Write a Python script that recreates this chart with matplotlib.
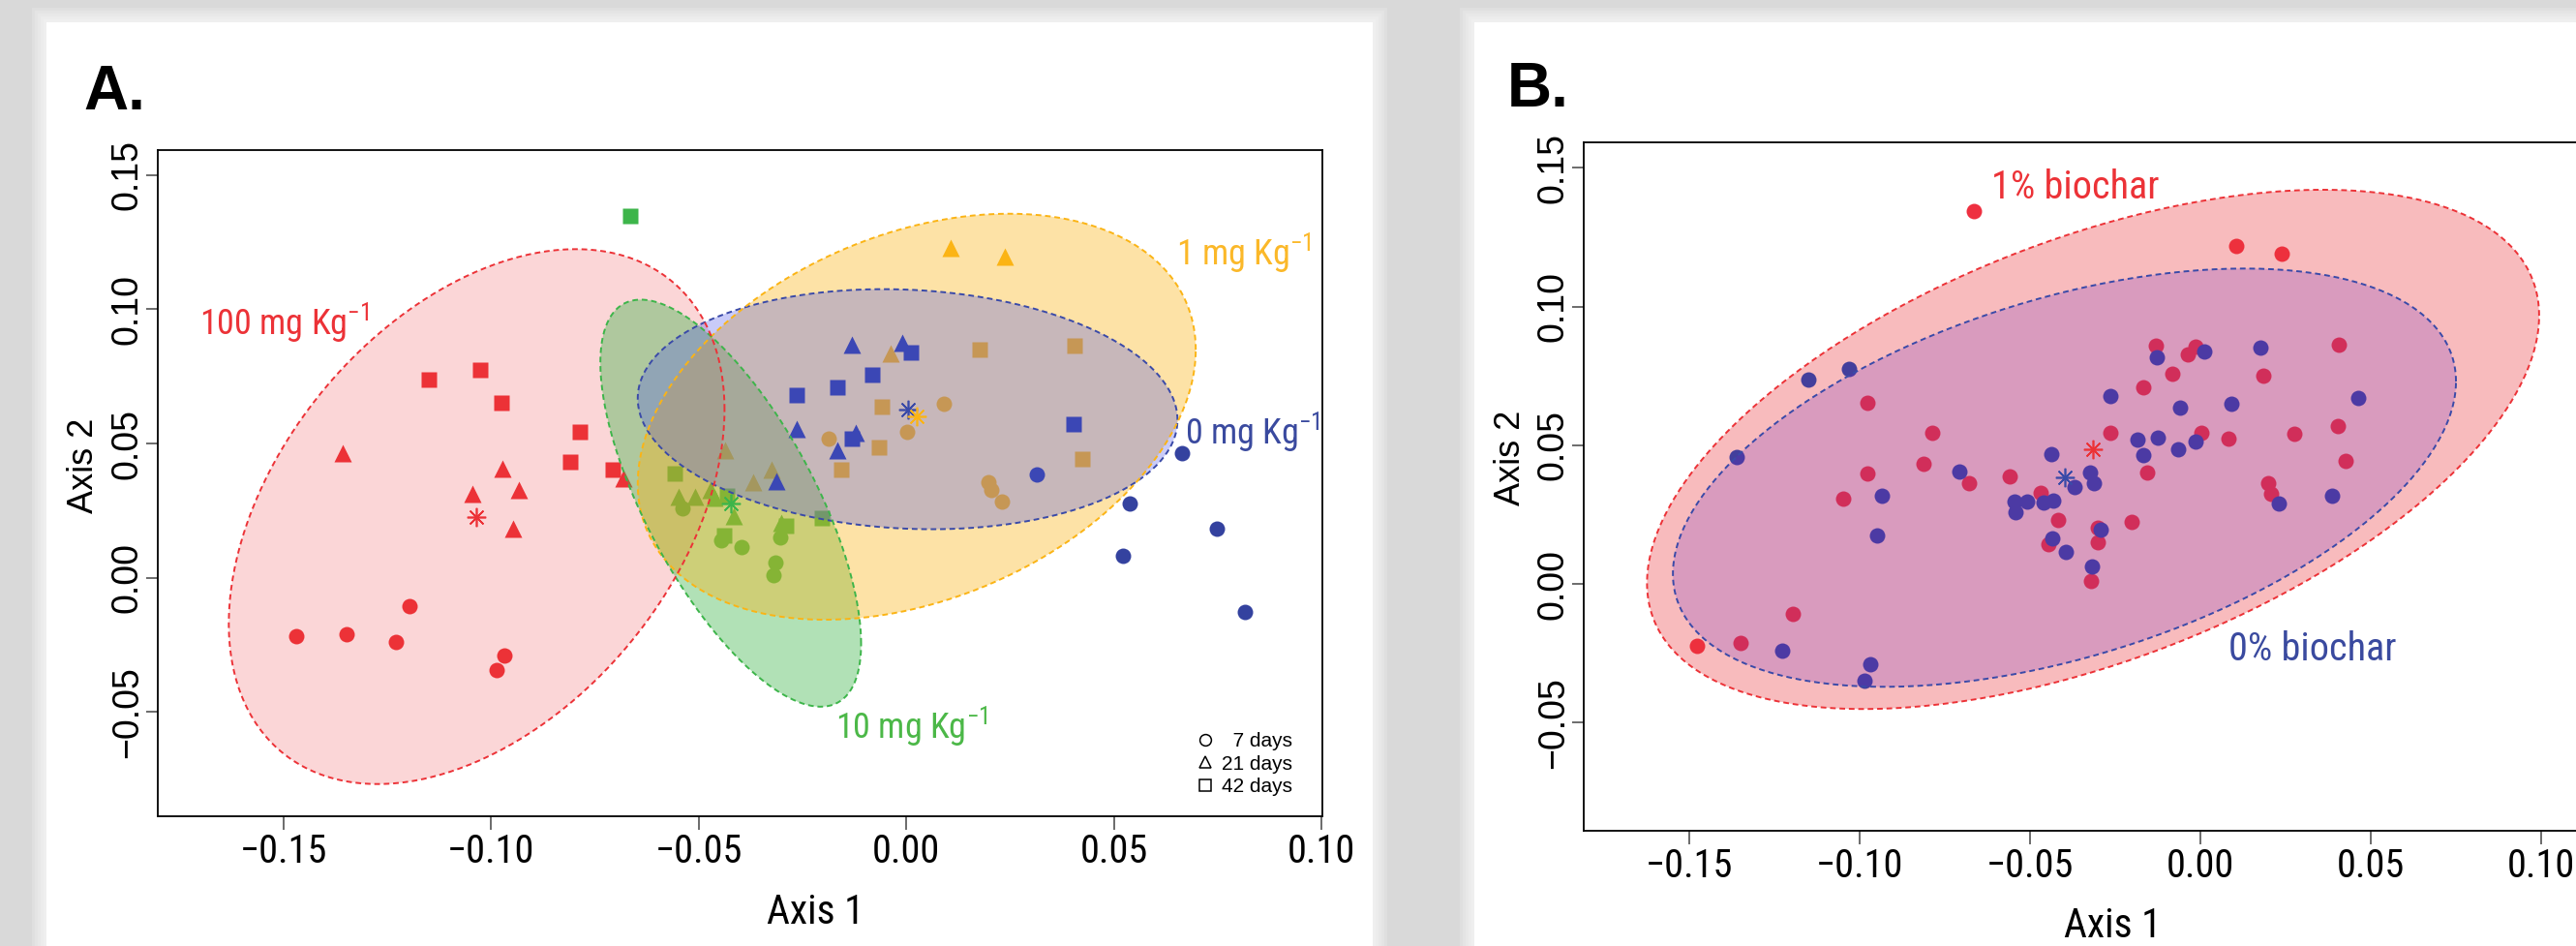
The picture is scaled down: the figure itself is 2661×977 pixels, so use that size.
import numpy as np
import matplotlib
matplotlib.use('Agg')
import matplotlib.pyplot as plt
from matplotlib import font_manager as fm
from matplotlib.lines import Line2D
from matplotlib.patches import Rectangle
from matplotlib.ticker import FixedLocator, FuncFormatter

W, H = 2661, 977

names = {f.name for f in fm.fontManager.ttflist}
NARROW = next((n for n in ['Liberation Sans Narrow', 'Roboto Condensed', 'Open Sans Condensed']
               if n in names), 'DejaVu Sans')
HELV = 'Liberation Sans' if 'Liberation Sans' in names else 'DejaVu Sans'

# ---------------- panel A data (Axis 1 / Axis 2), 6 x 7 d, 6 x 21 d, 6 x 42 d per dose
sample_day = [7] * 6 + [21] * 6 + [42] * 6
doses = ['0 mg', '1 mg', '10 mg', '100 mg']

a1_0mg = [0.0315, 0.0665, 0.0539, 0.0748, 0.0522, 0.0816,
          -0.0132, -0.0011, -0.0264, -0.0121, -0.0167, -0.0312,
          0.0010, -0.0082, -0.0167, -0.0263, -0.0132, 0.0402]
a2_0mg = [0.0385, 0.0463, 0.0277, 0.0183, 0.0082, -0.0126,
          0.0868, 0.0874, 0.0553, 0.0541, 0.0475, 0.0361,
          0.0838, 0.0755, 0.0709, 0.0679, 0.0517, 0.0571]

a1_1mg = [0.0091, 0.0002, -0.0188, 0.0198, 0.0205, 0.0230,
          0.0106, 0.0237, -0.0037, -0.0436, -0.0324, -0.0369,
          0.0176, 0.0405, -0.0059, -0.0067, -0.0157, 0.0424]
a2_1mg = [0.0649, 0.0544, 0.0520, 0.0357, 0.0327, 0.0285,
          0.1229, 0.1196, 0.0836, 0.0475, 0.0403, 0.0357,
          0.0850, 0.0863, 0.0637, 0.0485, 0.0403, 0.0442]

a1_10mg = [-0.0540, -0.0445, -0.0396, -0.0303, -0.0315, -0.0321,
           -0.0548, -0.0508, -0.0472, -0.0463, -0.0415, -0.0302,
           -0.0665, -0.0558, -0.0433, -0.0439, -0.0290, -0.0203]
a2_10mg = [0.0259, 0.0139, 0.0114, 0.0151, 0.0057, 0.0010,
           0.0301, 0.0301, 0.0327, 0.0299, 0.0231, 0.0205,
           0.1346, 0.0388, 0.0307, 0.0157, 0.0195, 0.0223]

a1_100mg = [-0.1470, -0.1348, -0.1230, -0.1197, -0.0987, -0.0968,
            -0.1358, -0.1045, -0.0973, -0.0934, -0.0947, -0.0681,
            -0.1150, -0.1027, -0.0976, -0.0786, -0.0810, -0.0707]
a2_100mg = [-0.0216, -0.0210, -0.0240, -0.0106, -0.0345, -0.0290,
            0.0463, 0.0313, 0.0406, 0.0327, 0.0183, 0.0369,
            0.0737, 0.0773, 0.0651, 0.0543, 0.0431, 0.0402]

# ellipses (centre = group centroid), half extents along each axis and correlation
ellA_cx = [0.0003, 0.0025, -0.0423, -0.1035]
ellA_cy = [0.0628, 0.0600, 0.0278, 0.0228]
ellA_hx = [0.0650, 0.0672, 0.0314, 0.0597]
ellA_hy = [0.0447, 0.0756, 0.0758, 0.0996]
ellA_rho = [-0.09, 0.33, -0.69, 0.40]

# ---------------- panel B data
b1_0pct = [-0.1030, -0.1151, -0.1360, -0.0934, -0.0949, -0.1228, -0.0968, -0.0985,
           -0.0263, -0.0128, 0.0010, 0.0177, 0.0464, -0.0059, 0.0091, -0.0186,
           -0.0124, -0.0167, -0.0065, -0.0438, -0.0707, -0.0324, -0.0313, -0.0368,
           -0.0545, -0.0509, -0.0543, -0.0461, -0.0432, -0.0294, -0.0436, -0.0395,
           -0.0317, 0.0387, 0.0231, -0.0015]
b2_0pct = [0.0775, 0.0738, 0.0456, 0.0319, 0.0176, -0.0242, -0.0288, -0.0349,
           0.0679, 0.0818, 0.0838, 0.0851, 0.0669, 0.0636, 0.0651, 0.0520,
           0.0529, 0.0466, 0.0486, 0.0468, 0.0404, 0.0400, 0.0362, 0.0350,
           0.0297, 0.0297, 0.0259, 0.0293, 0.0299, 0.0197, 0.0163, 0.0115,
           0.0062, 0.0319, 0.0289, 0.0515]

b1_1pct = [-0.0664, 0.0106, 0.0239, -0.0130, -0.0013, -0.0036, 0.0406, -0.0082,
           0.0184, -0.0167, -0.0978, -0.0788, -0.0265, 0.0002, 0.0083, 0.0276,
           0.0404, 0.0425, -0.0812, -0.0976, -0.0561, -0.0680, -0.0157, -0.0470,
           0.0198, 0.0206, -0.1047, -0.0417, -0.0203, -0.0301, -0.0301, -0.0445,
           -0.0320, -0.1197, -0.1349, -0.1476]
b2_1pct = [0.1345, 0.1220, 0.1189, 0.0860, 0.0856, 0.0826, 0.0863, 0.0756,
           0.0751, 0.0709, 0.0653, 0.0545, 0.0545, 0.0545, 0.0525, 0.0541,
           0.0570, 0.0442, 0.0433, 0.0397, 0.0389, 0.0363, 0.0402, 0.0329,
           0.0362, 0.0326, 0.0306, 0.0229, 0.0223, 0.0202, 0.0151, 0.0142,
           0.0012, -0.0107, -0.0212, -0.0222]

ellB_cx = [-0.0399, -0.0315]
ellB_cy = [0.0383, 0.0485]
ellB_hx = [0.1149, 0.1309]
ellB_hy = [0.0754, 0.0936]
ellB_rho = [0.46, 0.515]

ticks_x = [-0.15, -0.10, -0.05, 0.00, 0.05, 0.10]
ticks_y = [-0.05, 0.00, 0.05, 0.10, 0.15]

# colours: point colour, fill colour, fill alpha, outline colour
pt_A = ['#34429f', '#fbb415', '#3db54a', '#ec3237']
fill_A = ['#4c54eb', '#fbb415', '#3db54a', '#ec3237']
alpha_A = [0.30, 0.38, 0.40, 0.20]
line_A = ['#3a4aa8', '#fbb415', '#3db54a', '#ec3237']
# layering: red/green/orange points under every fill, blue points above the orange fill
pt_z_A = [5, 1, 1, 1]
fill_z_A = [6, 4, 3, 2]
day_marker = {7: 'o', 21: '^', 42: 's'}
day_ms = {7: 11.5, 21: 13.5, 42: 11.5}


def ellipse_xy(cx, cy, hx, hy, rho, n=300):
    t = np.linspace(0, 2 * np.pi, n)
    return cx + hx * np.cos(t), cy + hy * (rho * np.cos(t) + np.sqrt(1 - rho ** 2) * np.sin(t))


def fmt(v, pos):
    return f'{v:.2f}'.replace('-', '\u2212')


def style_axes(ax, xlim, ylim):
    ax.set_xlim(*xlim)
    ax.set_ylim(*ylim)
    ax.xaxis.set_major_locator(FixedLocator(ticks_x))
    ax.yaxis.set_major_locator(FixedLocator(ticks_y))
    ax.xaxis.set_major_formatter(FuncFormatter(fmt))
    ax.yaxis.set_major_formatter(FuncFormatter(fmt))
    for s in ax.spines.values():
        s.set_linewidth(1.3)
        s.set_zorder(10)
    ax.tick_params(axis='x', length=10, width=1.1, color='#444444', pad=2)
    ax.tick_params(axis='y', length=8.6, width=1.1, color='#444444', pad=1)
    for lab in ax.get_xticklabels():
        lab.set_fontfamily(NARROW)
        lab.set_fontsize(29)
    for lab in ax.get_yticklabels():
        lab.set_fontfamily(HELV)
        lab.set_fontsize(27)
        lab.set_rotation(90)
        lab.set_va('center')


fig = plt.figure(figsize=(W / 100, H / 100), dpi=100)
fig.patch.set_facecolor('#d9d9d9')
# white panels with a soft edge
for x0, x1 in [(48, 1418), (1523, 2720)]:
    for k in range(5, 0, -1):
        fig.add_artist(Rectangle(((x0 - 3 * k) / W, 0), (x1 - x0 + 6 * k) / W, (H - 23 + 3 * k) / H,
                                 transform=fig.transFigure, facecolor='white', edgecolor='none',
                                 alpha=0.18, zorder=0))
    fig.add_artist(Rectangle((x0 / W, 0), (x1 - x0) / W, (H - 23) / H, transform=fig.transFigure,
                             facecolor='white', edgecolor='none', zorder=0))

# ================= panel A
axA = fig.add_axes([163 / W, 134 / H, 1203 / W, 688 / H])
style_axes(axA, (-0.1803, 0.1002), (-0.0888, 0.1593))

groupsA = [(a1_0mg, a2_0mg), (a1_1mg, a2_1mg), (a1_10mg, a2_10mg), (a1_100mg, a2_100mg)]
dd = np.array(sample_day)
for i, (gx, gy) in enumerate(groupsA):
    gx, gy = np.array(gx), np.array(gy)
    for d in [7, 21, 42]:
        m = dd == d
        axA.plot(gx[m], gy[m], ls='none', marker=day_marker[d], ms=day_ms[d], color=pt_A[i],
                 mec='none', zorder=pt_z_A[i])
    ex, ey = ellipse_xy(ellA_cx[i], ellA_cy[i], ellA_hx[i], ellA_hy[i], ellA_rho[i])
    axA.fill(ex, ey, color=fill_A[i], alpha=alpha_A[i], lw=0, zorder=fill_z_A[i])
    axA.plot(ex, ey, color=line_A[i], lw=1.4, ls=(0, (3, 2)), zorder=7)
    axA.plot(ellA_cx[i], ellA_cy[i], marker=(8, 2, 0), ms=14, mew=1.2, color=line_A[i], zorder=8)

sup = r'$^{\mathregular{-1}}$'
axA.text(-0.1703, 0.0908, '100 mg Kg' + sup, color='#ec3237', fontsize=26, family=NARROW, va='baseline')
axA.text(0.0650, 0.1167, '1 mg Kg' + sup, color='#fbb829', fontsize=26, family=NARROW, va='baseline')
axA.text(0.0670, 0.0500, '0 mg Kg' + sup, color='#3a4a9f', fontsize=26, family=NARROW, va='baseline')
axA.text(-0.0170, -0.0595, '10 mg Kg' + sup, color='#4cb848', fontsize=26, family=NARROW, va='baseline')

handles = [Line2D([], [], ls='none', marker=m, ms=8.5, mfc='none', mec='black', mew=1.1)
           for m in ['o', '^', 's']]
axA.legend(handles, ['  7 days', '21 days', '42 days'], loc='lower right',
           bbox_to_anchor=(0.974, 0.03), frameon=False, prop=dict(family=HELV, size=15),
           handlelength=0.8, handletextpad=0.4, labelspacing=0.22, borderpad=0, borderaxespad=0)

axA.set_xlabel('Axis 1', family=NARROW, fontsize=30)
axA.xaxis.set_label_coords(0.5644, -0.1453)
axA.xaxis.label.set_va('center')
axA.set_ylabel('Axis 2', family=HELV, fontsize=26)
axA.yaxis.set_label_coords(-0.0632, 0.5262)
axA.yaxis.label.set_va('center')

fig.text(86 / W, 1 - 113 / H, 'A.', family=HELV, fontweight='bold', fontsize=46, va='baseline')

# ================= panel B
axB = fig.add_axes([1636 / W, 119 / H, 1064 / W, 711 / H])
style_axes(axB, (-0.18097, 0.12130), (-0.0890, 0.1592))
axB.spines['right'].set_visible(False)

# order: red points, red fill, blue points, blue fill
axB.plot(b1_1pct, b2_1pct, ls='none', marker='o', ms=11.5, color='#ee3040', mec='none', zorder=1)
ex, ey = ellipse_xy(ellB_cx[1], ellB_cy[1], ellB_hx[1], ellB_hy[1], ellB_rho[1])
axB.fill(ex, ey, color='#ec3237', alpha=0.33, lw=0, zorder=2)
axB.plot(ex, ey, color='#ec3237', lw=1.4, ls=(0, (3, 2)), zorder=7)
axB.plot(b1_0pct, b2_0pct, ls='none', marker='o', ms=11.5, color='#433f9c', mec='none', zorder=3)
ex0, ey0 = ellipse_xy(ellB_cx[0], ellB_cy[0], ellB_hx[0], ellB_hy[0], ellB_rho[0])
axB.fill(ex0, ey0, color='#6f2bc4', alpha=0.22, lw=0, zorder=4)
axB.plot(ex0, ey0, color='#3a4aa8', lw=1.4, ls=(0, (3, 2)), zorder=7)
axB.plot(ellB_cx[1], ellB_cy[1], marker=(8, 2, 0), ms=14, mew=1.2, color='#ec3237', zorder=8)
axB.plot(ellB_cx[0], ellB_cy[0], marker=(8, 2, 0), ms=14, mew=1.2, color='#3a4aa8', zorder=8)

axB.text(-0.0614, 0.1388, '1% biochar', color='#ec3237', fontsize=29, family=NARROW, va='baseline')
axB.text(0.0082, -0.0275, '0% biochar', color='#3a4a9f', fontsize=29, family=NARROW, va='baseline')

axB.set_xlabel('Axis 1', family=NARROW, fontsize=30)
axB.xaxis.set_label_coords(0.5132, -0.1392)
axB.xaxis.label.set_va('center')
axB.set_ylabel('Axis 2', family=HELV, fontsize=26)
axB.yaxis.set_label_coords(-0.0714, 0.5415)
axB.yaxis.label.set_va('center')

fig.text(1557 / W, 1 - 110 / H, 'B.', family=HELV, fontweight='bold', fontsize=46, va='baseline')

fig.savefig('out.png', dpi=100, facecolor=fig.get_facecolor())
